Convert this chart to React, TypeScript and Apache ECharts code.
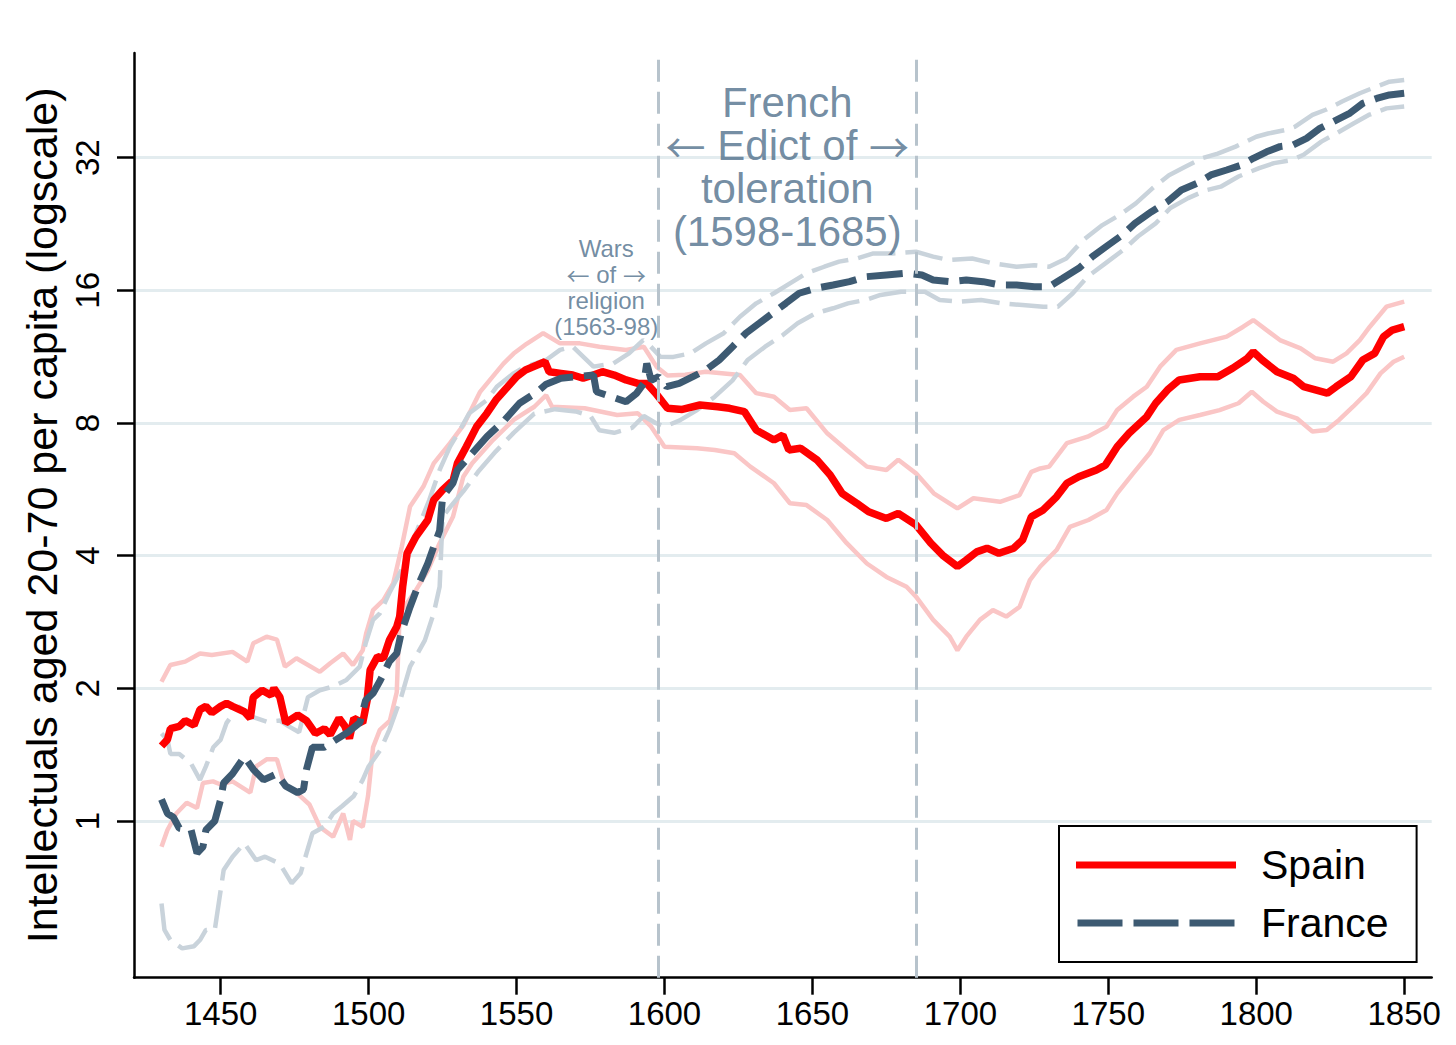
import React, { useEffect, useRef } from 'react';
import * as echarts from 'echarts';

// ---- data: [year, intellectuals aged 20-70 per capita] ----
const spain: [number, number][] = [
  [1430, 1.48], [1432, 1.53], [1433, 1.62], [1436, 1.64], [1438, 1.69], [1441, 1.65], [1443, 1.79], [1445, 1.82],
  [1447, 1.76], [1450, 1.82], [1452, 1.85], [1454, 1.82], [1458, 1.77], [1460, 1.71], [1461, 1.91], [1464, 1.98],
  [1467, 1.93], [1468, 2.0], [1470, 1.91], [1472, 1.67], [1476, 1.74], [1479, 1.69], [1482, 1.58], [1485, 1.62],
  [1487, 1.57], [1490, 1.71], [1492, 1.64], [1493.5, 1.54], [1495, 1.71], [1498, 1.67], [1499.5, 1.88], [1500.5, 2.2],
  [1503, 2.36], [1505, 2.34], [1507, 2.57], [1509.5, 2.76], [1510.5, 2.91], [1511.5, 3.4], [1513, 4.05], [1516, 4.42],
  [1520, 4.82], [1522, 5.35], [1525, 5.64], [1528.6, 5.94], [1530, 6.48], [1533, 7.07], [1536.5, 7.85], [1540, 8.42],
  [1543, 9.02], [1547, 9.67], [1550, 10.19], [1553, 10.55], [1557, 10.83], [1559.6, 11.02], [1561, 10.46], [1565, 10.37],
  [1569, 10.28], [1572.5, 10.11], [1576, 10.28], [1579, 10.46], [1583, 10.28], [1587, 10.02], [1591, 9.84], [1594, 9.84],
  [1597, 9.35], [1601, 8.64], [1606, 8.59], [1612, 8.79], [1618, 8.71], [1622, 8.64], [1627, 8.49], [1631, 7.71],
  [1637, 7.32], [1640, 7.51], [1642, 6.95], [1646, 7.01], [1651.5, 6.6], [1656, 6.1], [1660, 5.54], [1665, 5.26],
  [1669, 5.03], [1675, 4.86], [1679, 4.99], [1685, 4.7], [1690, 4.27], [1694, 4.01], [1699, 3.78], [1702, 3.91],
  [1705.5, 4.08], [1709, 4.16], [1713, 4.05], [1718, 4.16], [1721, 4.34], [1724, 4.9], [1728, 5.08], [1732.5, 5.44],
  [1736, 5.84], [1740, 6.04], [1746, 6.26], [1749, 6.42], [1753, 7.07], [1757, 7.58], [1763, 8.27], [1766, 8.87],
  [1770, 9.51], [1774, 10.02], [1781, 10.19], [1787, 10.19], [1792, 10.65], [1797, 11.22], [1799, 11.61], [1802, 11.12],
  [1807, 10.46], [1812.5, 10.11], [1816, 9.67], [1820, 9.51], [1824, 9.35], [1827, 9.67], [1832, 10.19], [1836, 11.12],
  [1840, 11.51], [1843, 12.56], [1846, 13.0], [1850, 13.23],
];

const spainUpper: [number, number][] = [
  [1430, 2.07], [1433, 2.26], [1438, 2.3], [1443, 2.4], [1447, 2.38], [1454, 2.42], [1459, 2.3], [1461, 2.53],
  [1465.5, 2.62], [1469, 2.58], [1471.7, 2.24], [1475.6, 2.34], [1483.5, 2.18], [1487, 2.28], [1491.4, 2.4], [1494.7, 2.26],
  [1498, 2.44], [1499.2, 2.67], [1501.5, 3.01], [1505, 3.17], [1508.3, 3.46], [1511.2, 4.19], [1514, 5.17], [1518.5, 5.74],
  [1522, 6.48], [1527.5, 7.2], [1532, 7.9], [1537.6, 9.4], [1545.5, 10.9], [1549, 11.5], [1553.4, 12.1], [1559, 12.79],
  [1564.7, 12.13], [1571.4, 12.13], [1578, 11.92], [1587, 11.72], [1593, 11.92], [1597.3, 10.74], [1601, 10.25], [1607, 10.3],
  [1614, 10.46], [1625.5, 10.28], [1631, 9.35], [1637, 9.18], [1642.4, 8.56], [1648, 8.64], [1655, 7.58], [1661.6, 6.95],
  [1668.4, 6.37], [1675, 6.26], [1679, 6.6], [1685, 6.15], [1691, 5.54], [1699, 5.12], [1704.4, 5.4], [1713.4, 5.3],
  [1720, 5.49], [1724, 6.2], [1727, 6.31], [1730, 6.37], [1736, 7.2], [1743, 7.45], [1749.4, 7.85], [1753, 8.56],
  [1758.4, 9.18], [1763, 9.67], [1767.5, 10.74], [1773, 11.72], [1781, 12.13], [1790, 12.56], [1795.6, 13.23], [1799, 13.7],
  [1803.5, 13.0], [1808, 12.34], [1815, 11.82], [1820, 11.22], [1826, 11.02], [1830.5, 11.51], [1835, 12.34], [1838.4, 13.23],
  [1844, 14.69], [1850, 15.08],
];

const spainLower: [number, number][] = [
  [1430, 0.874], [1432, 0.954], [1435, 1.04], [1438.5, 1.1], [1442, 1.07], [1444, 1.22], [1447.4, 1.23], [1450, 1.21],
  [1454, 1.23], [1460, 1.16], [1462, 1.33], [1465.5, 1.38], [1469, 1.38], [1471.7, 1.2], [1475.6, 1.16], [1480, 1.09],
  [1483.5, 0.97], [1488, 0.921], [1491.4, 1.04], [1493.7, 0.906], [1494.7, 1.0], [1498, 0.97], [1499.8, 1.14], [1501.5, 1.47],
  [1503.8, 1.61], [1507.2, 1.69], [1509.5, 1.96], [1510.5, 2.96], [1516, 3.34], [1520, 3.7], [1524, 4.27], [1528.5, 4.9],
  [1532, 6.04], [1535, 6.48], [1542, 7.32], [1549, 8.13], [1556, 8.71], [1560, 9.25], [1562, 8.71], [1573, 8.64],
  [1584, 8.34], [1591, 8.42], [1595.5, 7.85], [1600, 7.07], [1611, 7.01], [1617, 6.95], [1623.6, 6.83], [1629, 6.37],
  [1637, 5.84], [1642.4, 5.26], [1648, 5.21], [1655, 4.82], [1661.6, 4.27], [1668.4, 3.84], [1675, 3.58], [1681.8, 3.4],
  [1685, 3.23], [1690.8, 2.86], [1696.4, 2.62], [1699, 2.44], [1702, 2.62], [1706.6, 2.86], [1711, 3.01], [1715.5, 2.91],
  [1720, 3.06], [1723.5, 3.52], [1727, 3.78], [1732.5, 4.12], [1737, 4.65], [1743.3, 4.82], [1749.4, 5.08], [1753, 5.54],
  [1758.4, 6.15], [1764, 6.83], [1768.6, 7.71], [1774, 8.13], [1781, 8.34], [1787.6, 8.56], [1794, 8.87], [1798.5, 9.42],
  [1802.4, 8.94], [1807, 8.49], [1813.7, 8.2], [1819, 7.65], [1823.8, 7.71], [1828, 8.13], [1832.7, 8.71], [1837.3, 9.35],
  [1842, 10.37], [1846.4, 11.02], [1850, 11.31],
];

const france: [number, number][] = [
  [1430, 1.12], [1432, 1.04], [1434, 1.02], [1436, 0.963], [1440, 0.954], [1442, 0.845], [1444, 0.874], [1445, 0.954],
  [1448, 1.0], [1450, 1.12], [1451, 1.22], [1454, 1.28], [1458, 1.4], [1461, 1.31], [1464.5, 1.24], [1469, 1.28],
  [1472, 1.2], [1476, 1.16], [1478, 1.18], [1479, 1.31], [1481, 1.47], [1485, 1.47], [1487, 1.5], [1493, 1.59],
  [1497, 1.67], [1499, 1.88], [1501.5, 1.95], [1504, 2.09], [1507, 2.3], [1509.5, 2.4], [1511, 2.67], [1514, 3.06],
  [1517, 3.46], [1520, 3.84], [1522, 4.19], [1524, 4.56], [1525, 5.44], [1528.5, 5.84], [1530, 6.26], [1535, 6.83],
  [1540, 7.45], [1546, 8.13], [1551, 8.87], [1557, 9.42], [1560, 9.8], [1565, 10.11], [1571, 10.2], [1576, 10.28],
  [1577, 9.42], [1582, 9.18], [1587, 8.94], [1590.6, 9.35], [1593, 9.84], [1594, 10.92], [1595.5, 10.0], [1598, 10.19],
  [1600.7, 9.67], [1605, 9.84], [1609.6, 10.19], [1614, 10.55], [1618.5, 11.12], [1623, 11.92], [1627.5, 12.79], [1632, 13.47],
  [1636.5, 14.19], [1641, 14.95], [1645.5, 15.76], [1651, 16.17], [1657, 16.45], [1662.5, 16.74], [1668, 17.18], [1675, 17.34],
  [1682, 17.5], [1687, 17.34], [1690.8, 16.89], [1696.4, 16.74], [1702, 16.89], [1707.7, 16.74], [1713.4, 16.45], [1719, 16.45],
  [1725, 16.31], [1730, 16.31], [1734.6, 17.04], [1740, 17.95], [1744.6, 19.08], [1750, 20.28], [1754.7, 21.36], [1759, 22.71],
  [1764.6, 24.13], [1770, 25.43], [1774.7, 27.03], [1780, 28.0], [1784.7, 29.24], [1790, 30.01], [1795, 30.8], [1799, 31.9],
  [1803.5, 33.0], [1808, 33.9], [1812.5, 34.2], [1817, 35.4], [1821.5, 37.3], [1826, 38.6], [1831.7, 40.4], [1836, 42.5],
  [1840.7, 43.6], [1845, 44.4], [1850, 44.8],
];

const franceUpper: [number, number][] = [
  [1430, 1.58], [1432, 1.53], [1433, 1.42], [1436, 1.42], [1440, 1.35], [1443, 1.24], [1445, 1.33], [1447.5, 1.47],
  [1450, 1.53], [1452, 1.67], [1456, 1.82], [1461, 1.72], [1465.5, 1.68], [1470, 1.69], [1473, 1.64], [1476.5, 1.59],
  [1479.5, 1.91], [1483.5, 1.98], [1488, 2.02], [1492.5, 2.09], [1497, 2.24], [1499, 2.53], [1501.5, 2.86], [1503.8, 2.96],
  [1507, 3.29], [1510.5, 3.65], [1513, 3.91], [1516, 4.5], [1520.5, 5.35], [1524, 6.26], [1527.5, 7.07], [1531.5, 7.85],
  [1534, 8.42], [1540, 9.02], [1543.3, 9.67], [1549, 10.37], [1553, 10.74], [1560, 11.12], [1564.7, 11.72], [1569, 11.92],
  [1576, 10.74], [1582.7, 10.92], [1588, 11.51], [1592.8, 12.34], [1595, 12.0], [1598.6, 11.31], [1603, 11.3], [1608.7, 11.51],
  [1614, 12.13], [1620, 12.79], [1625.5, 13.94], [1631, 14.95], [1637, 15.76], [1642.4, 16.6], [1648, 17.5], [1654, 18.1],
  [1659, 18.59], [1665, 18.9], [1670.6, 19.4], [1677, 19.4], [1685, 19.58], [1690.8, 19.08], [1696, 18.75], [1704, 18.9],
  [1711, 18.42], [1719, 18.1], [1725, 18.25], [1730, 18.1], [1735.8, 18.9], [1741.5, 20.8], [1748, 22.5], [1753.7, 23.7],
  [1759.3, 25.2], [1765, 27.3], [1770.5, 29.2], [1776, 30.5], [1781.7, 31.9], [1787, 32.7], [1793, 33.9], [1800, 35.7],
  [1804, 36.3], [1810, 37.0], [1813, 37.6], [1819, 40.0], [1823.5, 41.1], [1829, 42.9], [1835, 44.8], [1840.7, 46.4],
  [1845, 47.6], [1850, 48.0],
];

const franceLower: [number, number][] = [
  [1430, 0.65], [1431, 0.566], [1433, 0.537], [1437, 0.514], [1441, 0.52], [1443, 0.537], [1445, 0.566], [1448, 0.566],
  [1449.5, 0.662], [1451, 0.774], [1454, 0.83], [1458, 0.89], [1462, 0.815], [1465, 0.83], [1470, 0.8], [1474, 0.722],
  [1477, 0.761], [1479, 0.845], [1481, 0.938], [1485, 0.97], [1488, 1.04], [1491, 1.08], [1495, 1.14], [1498, 1.24],
  [1500, 1.33], [1504, 1.45], [1507, 1.61], [1511, 1.91], [1514, 2.24], [1519, 2.57], [1522, 2.96], [1524, 3.4],
  [1525, 4.9], [1528, 5.2], [1532, 5.6], [1537, 6.2], [1543, 6.9], [1549, 7.6], [1556, 8.4], [1563, 8.6],
  [1570, 8.5], [1575, 8.3], [1578, 7.7], [1583, 7.6], [1589, 7.8], [1593, 8.3], [1597, 8.0], [1600, 7.85],
  [1605, 8.1], [1611, 8.56], [1617, 9.18], [1623, 10.0], [1628, 11.1], [1634, 11.92], [1640, 12.67], [1645, 13.47],
  [1651, 14.19], [1657, 14.57], [1662, 14.95], [1668, 15.22], [1673, 15.62], [1680, 15.89], [1688, 15.89], [1693, 15.22],
  [1700, 15.08], [1707, 15.22], [1714, 14.95], [1721, 14.82], [1728, 14.69], [1733, 14.69], [1738, 15.76], [1743, 17.18],
  [1749, 18.42], [1755, 19.75], [1760, 21.2], [1766, 22.7], [1771, 24.6], [1777, 25.9], [1783, 27.0], [1788, 27.5],
  [1794, 29.0], [1801, 30.3], [1806, 31.1], [1812, 31.6], [1816, 32.5], [1822, 34.8], [1827, 36.3], [1833, 38.3],
  [1838, 40.0], [1844, 41.4], [1850, 41.8],
];

const yTickValues = [1, 2, 4, 8, 16, 32];
const xTickValues = [1450, 1500, 1550, 1600, 1650, 1700, 1750, 1800, 1850];
const eventYears = [1598, 1685];
const edictAnchor: [number, number] = [1641.5, 30.4];
const edictText = 'French\n{a|←} Edict of {a|→}\ntoleration\n(1598-1685)';
const warsAnchor: [number, number] = [1580.3, 16.2];
const warsText = 'Wars\n{a|←} of {a|→}\nreligion\n(1563-98)';

const FONT = '"Liberation Sans", Arial, Helvetica, sans-serif';
const ARROW_FONT = '"Noto Sans CJK SC", "DejaVu Sans", sans-serif';
const SPAIN_RED = '#ff0000';
const SPAIN_CI = '#fac6c6';
const FRANCE_BLUE = '#3d5a72';
const FRANCE_CI = '#c9d3db';
const NOTE_COLOR = '#4f6f8b';

const toLog = (d: [number, number][]) => d.map(([x, v]) => [x, Math.log2(v)]);

export default function App() {
  const ref = useRef<HTMLDivElement>(null);

  useEffect(() => {
    if (!ref.current) return;
    const chart = echarts.init(ref.current, null, { renderer: 'svg' });

    const ciLine = (name: string, data: [number, number][], color: string, dashed: boolean) => ({
      name,
      type: 'line',
      data: toLog(data),
      symbol: 'none',
      silent: true,
      lineStyle: { color, width: 4.5, type: dashed ? [38, 10] : 'solid', cap: 'butt' },
      itemStyle: { color },
      z: 2,
    });

    chart.setOption({
      animation: false,
      backgroundColor: '#ffffff',
      grid: { left: 134, right: 24.3, top: 53, bottom: 67.3, containLabel: false },
      xAxis: {
        type: 'value',
        min: 1420.7,
        max: 1859.3,
        axisLine: { show: true, onZero: false, lineStyle: { color: '#000', width: 2.5 } },
        axisTick: { show: true, length: 17, lineStyle: { color: '#000', width: 2.5 }, customValues: xTickValues },
        axisLabel: {
          show: true, customValues: xTickValues, margin: 19,
          fontSize: 33, color: '#000', fontFamily: FONT,
          formatter: (v: number) => String(v),
        },
        splitLine: { show: false },
      },
      yAxis: {
        type: 'value',
        min: -1.181,
        max: 5.789,
        name: 'Intellectuals aged 20-70 per capita (logscale)',
        nameLocation: 'middle',
        nameGap: 66,
        nameTextStyle: { fontSize: 43, color: '#000', fontFamily: FONT },
        axisLine: { show: true, onZero: false, lineStyle: { color: '#000', width: 2.5 } },
        axisTick: {
          show: true, length: 17, lineStyle: { color: '#000', width: 2.5 },
          customValues: yTickValues.map((v) => Math.log2(v)),
        },
        axisLabel: {
          show: true, rotate: 90, margin: 30,
          customValues: yTickValues.map((v) => Math.log2(v)),
          fontSize: 33, color: '#000', fontFamily: FONT,
          formatter: (v: number) => String(Math.round(Math.pow(2, v))),
        },
        splitLine: { show: true, lineStyle: { color: '#e3ecef', width: 3 } },
      },
      legend: {
        show: true,
        data: [
          { name: 'Spain', icon: 'path://M0,0H160V7H0Z', itemStyle: { color: SPAIN_RED } },
          { name: 'France', icon: 'path://M0,0H45V7H0Z M56,0H101V7H56Z M112,0H157V7H112Z', itemStyle: { color: FRANCE_BLUE } },
        ],
        orient: 'vertical',
        left: 1059,
        top: 826,
        backgroundColor: '#ffffff',
        borderColor: '#000',
        borderWidth: 2,
        borderRadius: 0,
        padding: [15, 28, 15, 17],
        itemWidth: 160,
        itemHeight: 7,
        itemGap: 10,
        selectedMode: false,
        itemStyle: { borderWidth: 0 },
        textStyle: { fontSize: 41, color: '#000', fontFamily: FONT, lineHeight: 48, padding: [0, 0, 0, 20] },
      },
      series: [
        {
          ...ciLine('Spain upper', spainUpper, SPAIN_CI, false),
          markLine: {
            silent: true,
            symbol: 'none',
            label: { show: false },
            lineStyle: { color: '#b7c3cc', width: 3, type: [22, 10] },
            data: eventYears.map((y) => ({ xAxis: y })),
          },
        },
        ciLine('Spain lower', spainLower, SPAIN_CI, false),
        ciLine('France upper', franceUpper, FRANCE_CI, true),
        ciLine('France lower', franceLower, FRANCE_CI, true),
        {
          name: 'Spain',
          type: 'line',
          data: toLog(spain),
          symbol: 'none',
          silent: true,
          lineStyle: { color: SPAIN_RED, width: 7.5, type: 'solid' },
          itemStyle: { color: SPAIN_RED },
          z: 3,
        },
        {
          name: 'France',
          type: 'line',
          data: toLog(france),
          symbol: 'none',
          silent: true,
          lineStyle: { color: FRANCE_BLUE, width: 7, type: [36, 11], cap: 'butt' },
          itemStyle: { color: FRANCE_BLUE },
          z: 4,
        },
        {
          name: 'notes',
          type: 'scatter',
          symbolSize: 0,
          silent: true,
          z: 5,
          data: [
            {
              value: [edictAnchor[0], Math.log2(edictAnchor[1])],
              label: {
                formatter: edictText, fontSize: 42, lineHeight: 43,
                rich: { a: { fontFamily: ARROW_FONT, fontSize: 40, lineHeight: 43, color: NOTE_COLOR } },
              },
            },
            {
              value: [warsAnchor[0], Math.log2(warsAnchor[1])],
              label: {
                formatter: warsText, fontSize: 24, lineHeight: 26,
                rich: { a: { fontFamily: ARROW_FONT, fontSize: 23, lineHeight: 26, color: NOTE_COLOR } },
              },
            },
          ],
          label: {
            show: true,
            position: 'inside',
            color: NOTE_COLOR,
            fontFamily: FONT,
            align: 'center',
            verticalAlign: 'middle',
          },
        },
      ],
    });

    return () => chart.dispose();
  }, []);

  return (
    <div
      ref={ref}
      style={{ position: 'absolute', left: 0, top: 0, width: 1456, height: 1045, background: '#fff' }}
    />
  );
}
